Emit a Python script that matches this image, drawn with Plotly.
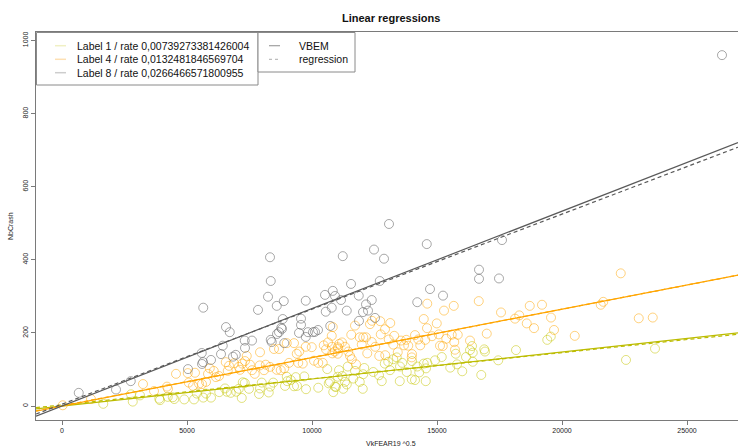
import plotly.graph_objects as go

# ---------------- data ----------------
labels = ["Label 1", "Label 4", "Label 8"]
rates = [0.00739273381426004, 0.0132481846569704, 0.0266466571800955]
reg_intercepts = [3.0, 0.5, 5.0]
reg_slopes = [0.00715, 0.01322, 0.0260]

l1_x = [1650, 2760, 3120, 2830, 3890, 3920, 4230, 4430, 4490, 4890, 5280, 5390, 5650, 5760, 5960,
        6290, 6520, 6590, 6750, 6970, 7070, 7190, 7230, 7310, 7480, 7880, 7920, 7990, 8270, 8330,
        8450, 8920, 9010, 9150, 9280, 9350, 9690, 9760, 10250, 10610, 10670, 10850, 10920, 11030,
        11080, 9400, 8990, 10720, 10960, 11210, 11320, 11390, 11430, 11650, 11720, 11910, 12030,
        12050, 12090, 12450, 12680, 12790, 12910, 13050, 13120, 13250, 13390, 13510, 13520, 13610,
        13790, 13990, 14000, 14120, 14210, 14290, 14470, 14550, 14560, 14610, 14920, 15190, 15530,
        15750, 15800, 16010, 16160, 16320, 16400, 16430, 16430, 16770, 16890, 16920, 17450, 18160,
        11250, 23720, 22560, 19410, 19550]
l1_y = [6, 32, 29, 12, 20, 16, 25, 24, 19, 18, 18, 34, 23, 34, 23,
        38, 48, 39, 36, 39, 47, 22, 65, 63, 47, 33, 48, 64, 37, 53,
        64, 55, 68, 71, 54, 79, 81, 46, 50, 101, 62, 38, 53, 80,
        98, 55, 80, 66, 52, 82, 66, 59, 108, 75, 96, 66, 47,
        87, 104, 93, 84, 68, 116, 121, 98, 128, 133, 68, 108, 118,
        93, 73, 123, 71, 108, 92, 116, 68, 103, 118, 125, 134, 105,
        143, 114, 95, 134, 153, 164, 146, 121, 85, 155, 149, 125, 153,
        47, 157, 126, 181, 190]

l4_x = [30, 1160, 3240, 3680, 4200, 4240, 4560, 5030, 5320, 5070, 5240, 5480, 5600, 5760, 5840,
        5910, 6070, 6160, 6280, 6550, 6630, 6680, 6880, 7070, 7120, 7210, 7320, 7390, 7520, 7600,
        7710, 7920, 7910, 8080, 8150, 8320, 8480, 8590, 8680, 8750, 8890, 8990, 9080, 9280, 9390,
        9450, 9630, 9490, 9750, 9990, 10080, 10250, 10430, 10470, 10560, 10640, 10790, 10810,
        10910, 11030, 11090, 10830, 10800, 11050, 11030, 11200, 11320, 11450, 11520, 11590, 11720,
        11570, 11760, 11910, 12050, 12160, 11990, 12210, 12390, 12320, 12400, 12750, 12920, 12730,
        13130, 12530, 12690, 12930, 13070, 13290, 13250, 13430, 13560, 13680, 13770, 13850, 14000,
        13990, 14120, 14250, 14330, 14470, 14600, 14610, 14530, 14800, 14990, 15070, 15120, 15230,
        15280, 15370, 15590, 15670, 15690, 15720, 15830, 16320, 16670, 16990, 17560, 18120, 18290,
        18590, 18710, 18880, 19200, 22350, 21650, 21550, 19560, 19680, 20510, 23070, 23630]
l4_y = [2, 19, 60, 41, 53, 47, 88, 90, 91, 64, 55, 61, 60, 66, 88,
        103, 96, 79, 82, 120, 96, 110, 117, 107, 99, 116, 123, 137, 113, 98,
        88, 147, 111, 98, 113, 107, 156, 99, 156, 98, 103, 172, 118, 172, 143,
        118, 116, 149, 162, 161, 124, 118, 118, 166, 155, 174, 192, 144,
        149, 161, 170, 216, 162, 157, 143, 174, 162, 149, 137, 128, 220,
        195, 114, 188, 188, 188, 168, 144, 175, 224, 233, 196, 210, 232,
        227, 162, 137, 139, 182, 192, 168, 147, 179, 166, 181, 165, 142,
        133, 194, 182, 166, 238, 213, 280, 181, 191, 226, 196, 165, 164,
        261, 184, 195, 274, 175, 154, 195, 179, 287, 198, 256, 239, 248,
        226, 274, 213, 277, 363, 285, 277, 242, 208, 192, 240, 242]

l8_x = [670, 2160, 2750, 5040, 5600, 5640, 5960, 5590, 6360, 6430, 6840, 6950, 7320, 7310, 7600,
        6560, 6710, 5650, 7840, 8240, 8320, 8350, 8870, 8590, 8830, 9560, 9750, 10520, 10830,
        10920, 10790, 10550, 10730, 10240, 10120, 10040, 9840, 9750, 9480, 8770, 8680, 8600, 8800,
        8350, 8390, 8890, 9560, 13080, 14590, 11230, 12480, 12880, 17600, 16680, 16680, 17480,
        11560, 12710, 11160, 11870, 14720, 15240, 14210, 12390, 12160, 12240, 12040, 11390, 12520,
        11880, 26400]
l8_y = [36, 45, 68, 101, 115, 120, 126, 145, 142, 165, 135, 140, 159, 179, 179,
        216, 202, 269, 263, 299, 407, 342, 287, 274, 238, 239, 288, 304, 315,
        301, 269, 258, 219, 208, 203, 202, 202, 189, 200, 214, 202, 197, 211,
        181, 175, 172, 222, 498, 443, 410, 428, 403, 454, 373, 348, 349,
        334, 342, 290, 302, 320, 302, 284, 290, 278, 261, 257, 261, 241,
        233, 960]

x_ticks = [0, 5000, 10000, 15000, 20000, 25000]
y_ticks = [0, 200, 400, 600, 800, 1000]
x_range = [-1040, 27040]
y_range = [-38.3, 1023.3]

# ---------------- styles ----------------
point_colors = ["rgba(200,200,20,0.55)", "rgba(255,165,0,0.5)", "rgba(110,110,110,0.6)"]
line_colors = ["#bcbc00", "#ffa500", "#5a5a5a"]
legend_colors = ["#f0f0c4", "#fde0b4", "#cdcdcd"]
FONT = "Liberation Sans, Arial, Helvetica, sans-serif"

fig = go.Figure()
for xs, ys, c in zip([l1_x, l4_x, l8_x], [l1_y, l4_y, l8_y], point_colors):
    fig.add_trace(go.Scatter(x=xs, y=ys, mode="markers", showlegend=False, hoverinfo="skip",
                             marker=dict(symbol="circle-open", size=9, color=c, line=dict(width=1, color=c))))

for r, a, b, c in zip(rates, reg_intercepts, reg_slopes, line_colors):
    fig.add_trace(go.Scatter(x=x_range, y=[r * x for x in x_range], mode="lines", showlegend=False,
                             line=dict(color=c, width=1.2)))
    fig.add_trace(go.Scatter(x=x_range, y=[a + b * x for x in x_range], mode="lines", showlegend=False,
                             line=dict(color=c, width=1.2, dash="4px,3px")))

# ---------------- layout ----------------
L, T, B, W, H = 36, 32, 28, 738, 448
PW, PH = W - L, H - T - B

def px(xp):
    return (xp - L) / PW

def py(yp):
    return (H - B - yp) / PH

shapes = []
annotations = []
# legend boxes
shapes.append(dict(type="rect", xref="paper", yref="paper", x0=px(36.5), x1=px(258), y0=py(85), y1=py(32.5),
                   line=dict(color="#8a8a8a", width=1), fillcolor="white", layer="above"))
shapes.append(dict(type="rect", xref="paper", yref="paper", x0=px(258), x1=px(355), y0=py(72), y1=py(32.5),
                   line=dict(color="#8a8a8a", width=1), fillcolor="white", layer="above"))
rows = [45.7, 59.3, 72.7]
for i, (lab, r, lc) in enumerate(zip(labels, rates, legend_colors)):
    shapes.append(dict(type="line", xref="paper", yref="paper", x0=px(55), x1=px(66), y0=py(rows[i]), y1=py(rows[i]),
                       line=dict(color=lc, width=1.5), layer="above"))
    annotations.append(dict(xref="paper", yref="paper", x=px(75), y=py(rows[i]), xanchor="left", yanchor="middle",
                            text=f"{lab} / rate {repr(r).replace('.', ',')}", showarrow=False,
                            font=dict(size=10.5, color="#111", family=FONT)))
for i, (name, dash, lc) in enumerate([("VBEM", "solid", "#a0a0a0"), ("regression", "dot", "#bdbdbd")]):
    shapes.append(dict(type="line", xref="paper", yref="paper", x0=px(269), x1=px(280), y0=py(rows[i]), y1=py(rows[i]),
                       line=dict(color=lc, width=1.2, dash=dash), layer="above"))
    annotations.append(dict(xref="paper", yref="paper", x=px(297), y=py(rows[i]), xanchor="left", yanchor="middle",
                            text=name, showarrow=False, font=dict(size=10.5, color="#111", family=FONT)))

annotations.append(dict(xref="paper", yref="paper", x=px(391), y=py(18), text="<b>Linear regressions</b>",
                        showarrow=False, xanchor="center", yanchor="middle", font=dict(size=11, color="#111", family=FONT)))
annotations.append(dict(xref="paper", yref="paper", x=px(391), y=py(443), text="VkFEAR19 ^0.5",
                        showarrow=False, xanchor="center", yanchor="middle", font=dict(size=7, color="#222", family=FONT)))
annotations.append(dict(xref="paper", yref="paper", x=px(10), y=py(226), text="NbCrash", textangle=-90,
                        showarrow=False, xanchor="center", yanchor="middle", font=dict(size=7, color="#222", family=FONT)))

fig.update_layout(
    width=W, height=H, margin=dict(l=L, r=0, t=T, b=B, pad=0, autoexpand=False),
    paper_bgcolor="white", plot_bgcolor="white", showlegend=False,
    font=dict(family=FONT, size=7, color="#222"),
    shapes=shapes, annotations=annotations,
    xaxis=dict(range=x_range, tickvals=x_ticks, ticktext=[str(v) for v in x_ticks], showgrid=False,
               zeroline=False, showline=True, linecolor="#7a7a7a", linewidth=1, mirror=True,
               ticks="outside", ticklen=4, tickcolor="#7a7a7a", tickfont=dict(size=7), automargin=False),
    yaxis=dict(range=y_range, tickvals=y_ticks, ticktext=[str(v) for v in y_ticks], showgrid=False,
               zeroline=False, showline=True, linecolor="#7a7a7a", linewidth=1, mirror=False,
               ticks="outside", ticklen=4, tickcolor="#7a7a7a", tickangle=-90, tickfont=dict(size=7),
               automargin=False),
)

fig.write_html("out.html", config={"displayModeBar": False},
               post_script="document.body.style.margin='0px';document.body.style.overflow='hidden';")
